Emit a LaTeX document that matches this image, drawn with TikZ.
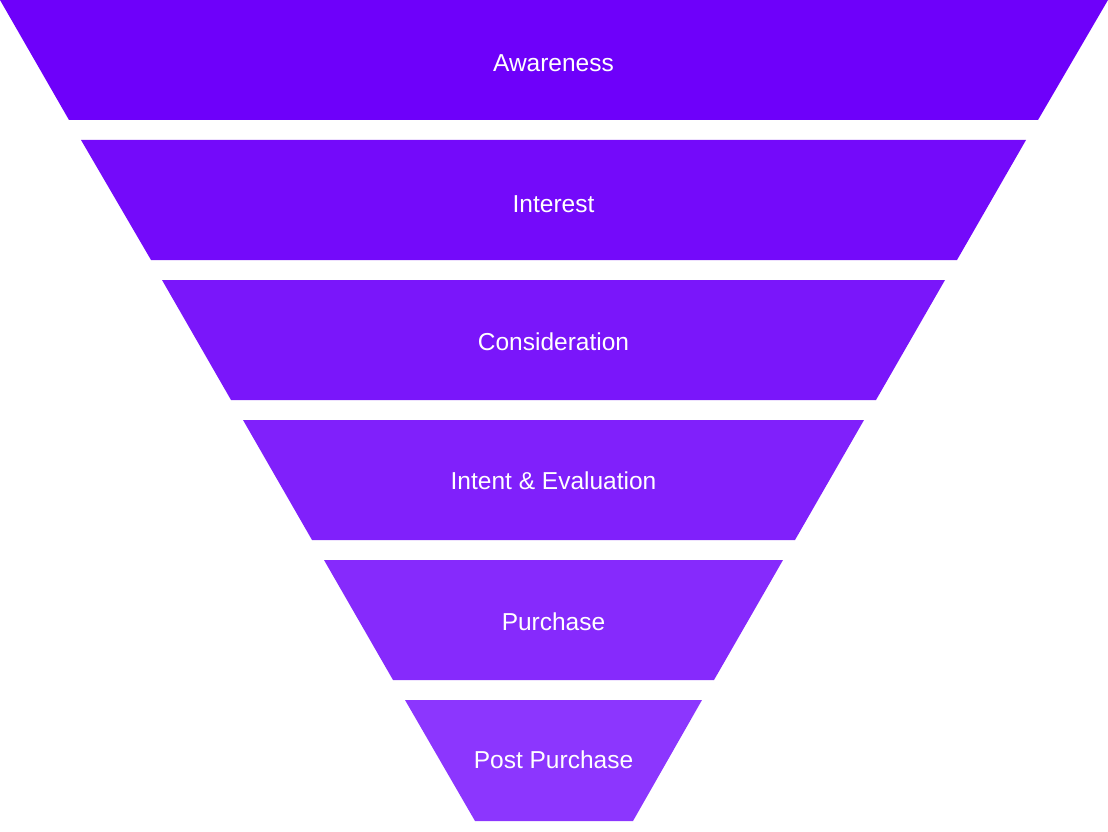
\documentclass[tikz,border=0pt]{standalone}
\usepackage{fontspec}
\setmainfont{Liberation Sans}
\definecolor{f1}{RGB}{110,0,250}
\definecolor{f2}{RGB}{116,10,250}
\definecolor{f3}{RGB}{122,22,250}
\definecolor{f4}{RGB}{128,32,251}
\definecolor{f5}{RGB}{134,42,252}
\definecolor{f6}{RGB}{140,54,254}
\tikzset{
  band/.style={draw=none},
  lbl/.style={text=white, font=\fontsize{24.5}{28}\selectfont, inner sep=0pt}
}
\begin{document}
\begin{tikzpicture}[x=1pt,y=-1pt]
\useasboundingbox (0,0) rectangle (1108,832);
\fill[f1] (0,0) -- (1108,0) -- (1038,120) -- (69,120) -- cycle;
\fill[f2] (81,140) -- (1026,140) -- (957,260) -- (151,260) -- cycle;
\fill[f3] (162,280) -- (945,280) -- (876,400) -- (231,400) -- cycle;
\fill[f4] (243,420) -- (864,420) -- (795,540) -- (312,540) -- cycle;
\fill[f5] (324,560) -- (783,560) -- (714,680) -- (393,680) -- cycle;
\fill[f6] (405,700) -- (702,700) -- (633,821) -- (475,821) -- cycle;
\node[lbl] (a) at (553.5,63) {Awareness};
\node[lbl] (b) at (553.5,204) {Interest};
\node[lbl] (c) at (553.5,342) {Consideration};
\node[lbl] (d) at (553.5,481) {Intent \& Evaluation};
\node[lbl] (e) at (553.5,622) {Purchase};
\node[lbl] (f) at (553.5,760) {Post Purchase};
\end{tikzpicture}
\end{document}
